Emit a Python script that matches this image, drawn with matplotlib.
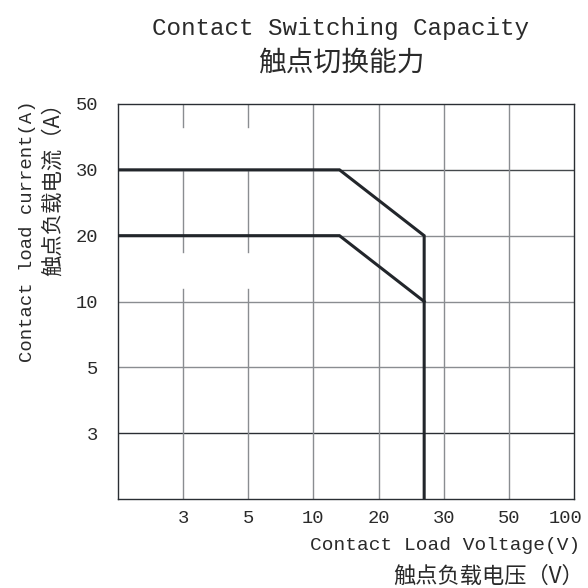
import numpy as np
import matplotlib.pyplot as plt
from matplotlib.transforms import ScaledTranslation

# tick values (axis is drawn with equal spacing between listed values)
volt_ticks = [1, 3, 5, 10, 20, 30, 50, 100]
volt_labels = ['', '3', '5', '10', '20', '30', '50', '100']
amp_ticks = [1, 3, 5, 10, 20, 30, 50]
amp_labels = ['', '3', '5', '10', '20', '30', '50']

# switching capacity curves: voltage (V) / current (A)
outer_volt = [1, 14, 27, 27]
outer_amp = [30, 30, 20, 1]
inner_volt = [1, 14, 27]
inner_amp = [20, 20, 10]

xpos = np.arange(len(volt_ticks))
ypos = np.arange(len(amp_ticks))

def fwd_x(v):
    return np.interp(v, volt_ticks, xpos)

def inv_x(p):
    return np.interp(p, xpos, volt_ticks)

def fwd_y(v):
    return np.interp(v, amp_ticks, ypos)

def inv_y(p):
    return np.interp(p, ypos, amp_ticks)

LATIN = 'Liberation Mono'
CJK = ['Noto Sans CJK SC', 'DejaVu Sans']
TXT = '#2a2a2a'
GRID = '#8a8d91'
LINE = '#22262b'

fig = plt.figure(figsize=(5.88, 5.88), dpi=100)
ax = fig.add_axes([118 / 588, 89 / 588, 456 / 588, 395 / 588])
ax.set_xscale('function', functions=(fwd_x, inv_x))
ax.set_yscale('function', functions=(fwd_y, inv_y))
ax.set_xlim(volt_ticks[0], volt_ticks[-1])
ax.set_ylim(amp_ticks[0], amp_ticks[-1])

# horizontal grid
hcol = {30: '#44484c', 3: '#2a2e33'}
for a in amp_ticks[1:-1]:
    ax.axhline(a, color=hcol.get(a, GRID), lw=1.0, zorder=1)

# vertical grid (first two lines are broken where old labels were erased)
gaps = {3: [(0.942, 1.0), (0.666, 0.834), (0.0, 0.531), (0.626, 0.666)],
        5: [(0.942, 1.0), (0.666, 0.834), (0.0, 0.531), (0.626, 0.666)]}
for v in volt_ticks[1:-1]:
    if v in gaps:
        for lo, hi in gaps[v]:
            ax.axvline(v, ymin=lo, ymax=hi, color=GRID, lw=1.0, zorder=1)
    else:
        ax.axvline(v, color=GRID, lw=1.0, zorder=1)

ax.plot(outer_volt, outer_amp, color=LINE, lw=2.2, solid_joinstyle='miter', zorder=3)
ax.plot(inner_volt, inner_amp, color=LINE, lw=2.2, solid_joinstyle='miter', zorder=3)

for s in ax.spines.values():
    s.set_color('#2a2e33')
    s.set_linewidth(1.0)

ax.set_xticks(volt_ticks)
ax.set_xticklabels(volt_labels)
ax.set_yticks(amp_ticks)
ax.set_yticklabels(amp_labels)
ax.minorticks_off()
ax.tick_params(axis='x', length=0, pad=8, labelsize=13.5, labelcolor=TXT)
ax.tick_params(axis='y', length=0, pad=14, labelsize=13.5, labelcolor=TXT)
for lab in ax.get_xticklabels() + ax.get_yticklabels():
    lab.set_family(LATIN)
last = ax.get_xticklabels()[-1]
last.set_transform(last.get_transform() + ScaledTranslation(-8 / 100, 0, fig.dpi_scale_trans))

# titles
fig.text(341 / 588, 1 - 28 / 588, 'Contact Switching Capacity', ha='center', va='center',
         fontsize=17.5, family=LATIN, color=TXT)
fig.text(341 / 588, 1 - 63 / 588, '触点切换能力', ha='center', va='center',
         fontsize=20, family=CJK, color=TXT)

# axis labels
fig.text(580 / 588, 1 - 546 / 588, 'Contact Load Voltage(V)', ha='right', va='center',
         fontsize=14, family=LATIN, color=TXT)
fig.text(584 / 588, 1 - 576 / 588, '触点负载电压（V）', ha='right', va='center',
         fontsize=16, family=CJK, color=TXT)
fig.text(28 / 588, 1 - 100 / 588, 'Contact load current(A)', ha='center', va='top',
         rotation=90, fontsize=13.6, family=LATIN, color=TXT)
fig.text(53 / 588, 1 - 92 / 588, '触点负载电流（A）', ha='center', va='top',
         rotation=90, fontsize=15.4, family=CJK, color=TXT)

fig.savefig('out.png', dpi=100)
